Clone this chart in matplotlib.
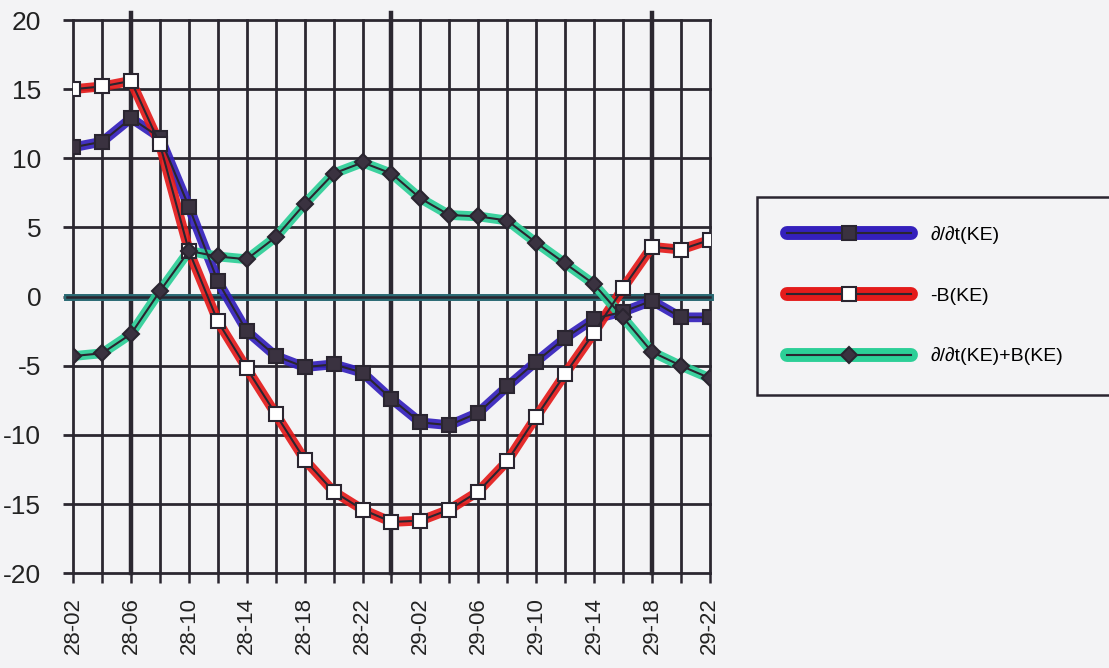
import matplotlib.pyplot as plt
from matplotlib.lines import Line2D
from matplotlib.legend_handler import HandlerTuple

# Zeitpunkte (Tag-Stunde), alle 2 Stunden
zeit = ["28-02", "28-04", "28-06", "28-08", "28-10", "28-12", "28-14", "28-16",
        "28-18", "28-20", "28-22", "29-00", "29-02", "29-04", "29-06", "29-08",
        "29-10", "29-12", "29-14", "29-16", "29-18", "29-20", "29-22"]
beschriftung = ["28-02", "28-06", "28-10", "28-14", "28-18", "28-22",
                "29-02", "29-06", "29-10", "29-14", "29-18", "29-22"]

dKE_dt = [10.8, 11.2, 12.9, 11.5, 6.5, 1.1, -2.5, -4.3, -5.1, -4.9, -5.5, -7.4,
          -9.1, -9.3, -8.4, -6.5, -4.7, -3.0, -1.6, -1.1, -0.3, -1.5, -1.5]
minus_B = [15.0, 15.2, 15.6, 11.0, 3.3, -1.8, -5.2, -8.5, -11.8, -14.1, -15.4, -16.3,
           -16.2, -15.4, -14.1, -11.9, -8.7, -5.6, -2.6, 0.6, 3.6, 3.4, 4.1]
summe = [-4.3, -4.1, -2.7, 0.4, 3.3, 2.9, 2.7, 4.3, 6.7, 8.9, 9.7, 8.9,
         7.1, 5.9, 5.8, 5.5, 3.9, 2.4, 0.9, -1.5, -4.0, -5.0, -5.9]

y_ticks = [20, 15, 10, 5, 0, -5, -10, -15, -20]
y_labels = ["20", "15", "10", "5", "0", "-5", "-10", "-15", "-20"]

papier = "#f3f3f5"
gitter = "#2b2730"
schwarz = "#2a2530"

plt.rcParams["font.family"] = ["Liberation Sans", "DejaVu Sans"]

fig = plt.figure(figsize=(11.09, 6.68), dpi=100, facecolor=papier)
ax = fig.add_axes([0.066, 0.142, 0.574, 0.828], facecolor=papier)

x = list(range(len(zeit)))

# Stift-Farben (dick) unter der duennen schwarzen Linie
farben = ["#3420bc", "#e41b1b", "#2ccf97"]
serien = [dKE_dt, minus_B, summe]
marker = [("s", 10, "#3a3240"), ("s", 10, "white"), ("D", 8, "#3a3240")]
handles = []
for werte, farbe, (m, ms, mfc) in zip(serien, farben, marker):
    ax.plot(x, werte, color=farbe, lw=7, alpha=0.92, solid_capstyle="round", zorder=3)
    ax.plot(x, werte, color=schwarz, lw=1.5, marker=m, ms=ms, mfc=mfc,
            mec=schwarz, mew=1.5, zorder=4)
    dick = Line2D([], [], color=farbe, lw=10, solid_capstyle="round")
    duenn = Line2D([], [], color=schwarz, lw=1.5, marker=m, ms=ms, mfc=mfc,
                   mec=schwarz, mew=1.5)
    handles.append((dick, duenn))

# Nulllinie
ax.axhline(0, color="#2a6a74", lw=5, zorder=2, xmin=-0.01, clip_on=False)
ax.axhline(0, color=schwarz, lw=1.8, zorder=2, xmin=-0.01, clip_on=False)

# dicke senkrechte Linien
for i in [2, 11, 20]:
    ax.axvline(i, color=gitter, lw=3.2, ymax=1.012, clip_on=False, zorder=1)

ax.set_xlim(0, len(zeit) - 1)
ax.set_ylim(-20, 20)
ax.set_yticks(y_ticks)
ax.set_yticklabels(y_labels, fontsize=19)
ax.set_xticks(x)
ax.set_xticklabels([z if z in beschriftung else "" for z in zeit],
                   rotation=90, fontsize=16)
ax.tick_params(axis="y", length=7, width=2, color=gitter, pad=16, labelcolor="#222")
ax.tick_params(axis="x", length=7, width=1.8, color=gitter, pad=10, labelcolor="#222")

ax.grid(True, color=gitter, lw=2, zorder=0)
for line in ax.get_xgridlines() + ax.get_ygridlines():
    line.set_clip_on(False)
for s in ax.spines.values():
    s.set_visible(False)

leg = fig.legend(handles, ["\u2202/\u2202t(KE)", "-B(KE)", "\u2202/\u2202t(KE)+B(KE)"],
                 handler_map={tuple: HandlerTuple(ndivide=1)},
                 loc="upper left", bbox_to_anchor=(0.683, 0.404, 0.35, 0.301),
                 mode="expand", fontsize=14, handlelength=6.4, handletextpad=1.0,
                 labelspacing=2.2, borderpad=1.5, borderaxespad=0,
                 fancybox=False, framealpha=1,
                 facecolor=papier, edgecolor=schwarz)
leg.get_frame().set_linewidth(1.8)

plt.savefig("out.png", dpi=100, facecolor=papier)
